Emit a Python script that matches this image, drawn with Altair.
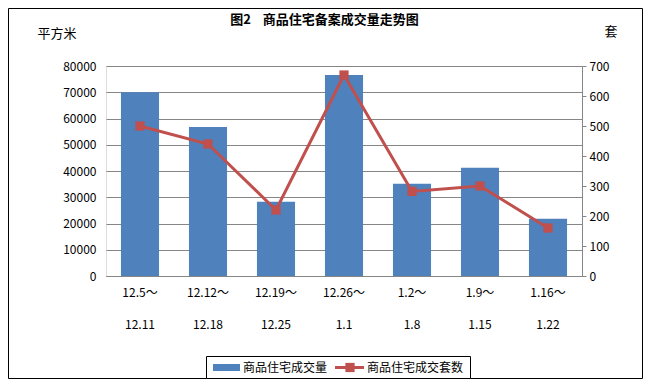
import altair as alt
import pandas as pd

starts = ["12.5～", "12.12～", "12.19～", "12.26～", "1.2～", "1.9～", "1.16～"]
ends = ["12.11", "12.18", "12.25", "1.1", "1.8", "1.15", "1.22"]
area = [70000, 56800, 28300, 76600, 35100, 41200, 21800]
units = [500, 440, 220, 670, 282, 300, 160]

title_text = "图2\u00a0\u00a0\u00a0\u00a0商品住宅备案成交量走势图"
left_unit = "平方米"
right_unit = "套"
name_bar = "商品住宅成交量"
name_line = "商品住宅成交套数"

cats = [f"{s}|{e}" for s, e in zip(starts, ends)]
df = pd.DataFrame({"cat": cats, "area": area, "units": units})
one = pd.DataFrame({"k": [0]})

FONT = "Noto Sans CJK SC"
BLUE = "#4F81BD"
RED = "#C0504D"
GRID = "#868686"

xenc = alt.X(
    "cat:N",
    sort=cats,
    scale=alt.Scale(paddingInner=0.44, paddingOuter=0.22),
    axis=alt.Axis(
        title=None, labelAngle=0, labelExpr="split(datum.label, '|')",
        labelLineHeight=32, ticks=False, domainColor=GRID, labelPadding=11,
        labelFontSize=12, labelColor="black", labelFont=FONT,
    ),
)

bars = alt.Chart(df).mark_bar(color=BLUE).encode(
    x=xenc,
    y=alt.Y(
        "area:Q",
        scale=alt.Scale(domain=[0, 80000], nice=False),
        axis=alt.Axis(
            title=None, orient="left", values=list(range(0, 80001, 10000)),
            format="d", domain=False, ticks=False, labelPadding=10, gridColor=GRID,
            labelFontSize=12, labelColor="black", labelFont=FONT,
        ),
    ),
)

line = alt.Chart(df).mark_line(color=RED, strokeWidth=3).encode(
    x=xenc,
    y=alt.Y(
        "units:Q",
        scale=alt.Scale(domain=[0, 700], nice=False),
        axis=alt.Axis(
            title=None, orient="right", values=list(range(0, 701, 100)),
            format="d", grid=False, domainColor=GRID, tickColor=GRID, tickSize=4,
            labelPadding=3, labelFontSize=12, labelColor="black", labelFont=FONT,
        ),
    ),
)
pts = alt.Chart(df).mark_point(shape="square", filled=True, color=RED, size=85, opacity=1).encode(
    x=xenc,
    y=alt.Y("units:Q", scale=alt.Scale(domain=[0, 700], nice=False), axis=None),
)

def txt(s, x, y, size=12, weight="normal", align="center"):
    return alt.Chart(one).mark_text(
        text=s, font=FONT, fontSize=size, fontWeight=weight, align=align,
        baseline="middle", color="black",
    ).encode(x=alt.value(x), y=alt.value(y))

frame = alt.Chart(one).mark_rect(fill=None, stroke="black", strokeWidth=1).encode(
    x=alt.value(-97.5), x2=alt.value(536.5), y=alt.value(-57.5), y2=alt.value(312.5)
)
leg_box = alt.Chart(one).mark_rect(fill="white", stroke="black", strokeWidth=1).encode(
    x=alt.value(100.5), x2=alt.value(364.5), y=alt.value(290.5), y2=alt.value(312.5)
)
leg_sw = alt.Chart(one).mark_rect(fill=BLUE).encode(
    x=alt.value(107), x2=alt.value(134), y=alt.value(298), y2=alt.value(305)
)
leg_ln = alt.Chart(one).mark_rule(color=RED, strokeWidth=3).encode(
    x=alt.value(229), x2=alt.value(258), y=alt.value(301.5)
)
leg_pt = alt.Chart(one).mark_point(shape="square", filled=True, color=RED, size=85, opacity=1).encode(
    x=alt.value(244), y=alt.value(301.5)
)

chart = alt.layer(
    frame, bars, line, pts,
    txt(title_text, 218.5, -46.5, size=13, weight="bold"),
    txt(left_unit, -49, -32.5, size=13),
    txt(right_unit, 505, -34.5, size=13),
    leg_box, leg_sw, leg_ln, leg_pt,
    txt(name_bar, 137, 301.5, size=12, align="left"),
    txt(name_line, 261, 301.5, size=12, align="left"),
).resolve_scale(y="independent").properties(
    width=476, height=210,
    autosize=alt.AutoSizeParams(type="none"),
    padding={"left": 98, "top": 58, "right": 61, "bottom": 103},
).configure_view(stroke=None).configure(background="white")

chart.save("out.html", embed_options={"renderer": "svg", "actions": False})
